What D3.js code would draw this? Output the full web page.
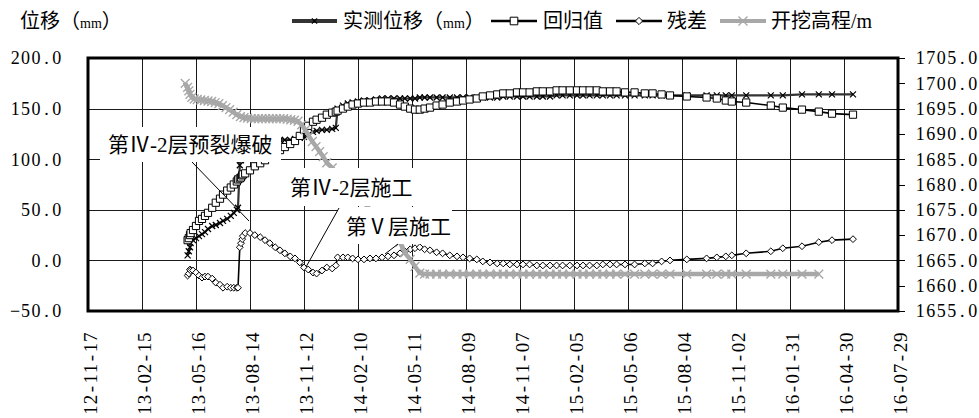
<!DOCTYPE html>
<html>
<head>
<meta charset="utf-8">
<script src="https://cdn.jsdelivr.net/npm/d3@7"></script>
<style>
  html, body { margin: 0; padding: 0; background: #fff; }
  svg { display: block; }
  .num { font-family: "Liberation Serif", "DejaVu Serif", serif; }
  .cjk { font-family: "Liberation Serif", "Noto Sans CJK SC", sans-serif; }
</style>
</head>
<body>
<svg id="chart" width="979" height="418"></svg>
<script>
(function () {
  'use strict';

  // ---- data ----
  const xTickLabels = ['12-11-17', '13-02-15', '13-05-16', '13-08-14', '13-11-12', '14-02-10', '14-05-11', '14-08-09',
    '14-11-07', '15-02-05', '15-05-06', '15-08-04', '15-11-02', '16-01-31', '16-04-30', '16-07-29'];
  const leftTicks = [-50, 0, 50, 100, 150, 200];
  const rightTicks = [1655, 1660, 1665, 1670, 1675, 1680, 1685, 1690, 1695, 1700, 1705];

  const obsDates = [
    '2013-05-02', '2013-05-04', '2013-05-06', '2013-05-07', '2013-05-11', '2013-05-16', '2013-05-21', '2013-05-26', '2013-05-31', '2013-06-05',
    '2013-06-12', '2013-06-18', '2013-06-25', '2013-06-30', '2013-07-07', '2013-07-13', '2013-07-18', '2013-07-23', '2013-07-25', '2013-07-28',
    '2013-07-30', '2013-08-01', '2013-08-02', '2013-08-06', '2013-08-14', '2013-08-22', '2013-08-31', '2013-09-08', '2013-09-16', '2013-09-25',
    '2013-10-03', '2013-10-11', '2013-10-20', '2013-10-28', '2013-11-05', '2013-11-12', '2013-11-19', '2013-11-27', '2013-12-03', '2013-12-12',
    '2013-12-20', '2013-12-29', '2014-01-04', '2014-01-07', '2014-01-16', '2014-01-24', '2014-02-01', '2014-02-10', '2014-02-20', '2014-03-02',
    '2014-03-12', '2014-03-22', '2014-04-01', '2014-04-11', '2014-04-21', '2014-04-29', '2014-05-08', '2014-05-16', '2014-05-24', '2014-06-01',
    '2014-06-10', '2014-06-21', '2014-07-01', '2014-07-13', '2014-07-25', '2014-08-04', '2014-08-15', '2014-08-27', '2014-09-06', '2014-09-18',
    '2014-09-30', '2014-10-10', '2014-10-21', '2014-11-02', '2014-11-12', '2014-11-23', '2014-12-05', '2014-12-15', '2014-12-27', '2015-01-07',
    '2015-01-17', '2015-01-29', '2015-02-10', '2015-02-20', '2015-03-03', '2015-03-15', '2015-03-25', '2015-04-06', '2015-04-17', '2015-05-01',
    '2015-05-17', '2015-06-03', '2015-06-16', '2015-07-01', '2015-07-15', '2015-08-12', '2015-09-14', '2015-10-01', '2015-10-16', '2015-10-26',
    '2015-11-19', '2015-12-30', '2016-01-19', '2016-02-20', '2016-03-19', '2016-04-10', '2016-05-15'
  ];
  const measured = [
    5, 9, 13, 17, 20, 22, 24, 26, 28, 31,
    34, 35, 37, 39, 41, 44, 47, 50, 52, 94,
    99, 104, 108, 113, 116, 118, 119, 119, 119, 119,
    119, 119, 119, 120, 121, 122, 124, 127, 128, 129,
    129, 130, 131, 150, 153, 155, 156, 157, 158, 158,
    159, 160, 160, 160, 160, 160, 160, 160, 161, 161,
    161, 161, 161, 161, 161, 161, 161, 161, 161, 161,
    161, 162, 162, 162, 162, 162, 162, 162, 162, 163,
    163, 163, 163, 163, 163, 163, 163, 163, 163, 163,
    163, 163, 163, 163, 163, 163, 163, 163, 163, 163,
    163, 163, 163, 164, 164, 164, 164
  ];
  const regression = [
    20, 22, 25, 27, 30, 34, 39, 41, 44, 47,
    52, 57, 61, 65, 69, 72, 75, 78, 80, 81,
    82, 84, 85, 86, 89, 93, 96, 99, 102, 106,
    109, 112, 115, 118, 123, 129, 133, 137, 139, 141,
    144, 146, 147, 148, 150, 152, 154, 155, 156, 156,
    157, 157, 157, 156, 154, 152, 150, 149, 149, 150,
    151, 153, 154, 156, 157, 158, 159, 160, 162, 163,
    164, 165, 165, 166, 166, 166, 167, 167, 167, 168,
    168, 168, 168, 168, 168, 168, 167, 167, 167, 166,
    166, 165, 165, 164, 163, 162, 161, 160, 158, 157,
    156, 153, 151, 149, 147, 145, 144
  ];
  const residual = [
    -15, -13, -9, -10, -10, -12, -15, -17, -16, -16,
    -18, -22, -24, -27, -26, -27, -27, -27, -27, 13,
    17, 21, 24, 27, 27, 25, 23, 20, 17, 13,
    10, 7, 4, 2, -2, -7, -9, -12, -13, -10,
    -7, -8, -5, 3, 3, 3, 2, 1, 1, 2,
    2, 3, 4, 5, 7, 9, 11, 12, 13, 11,
    10, 8, 7, 5, 4, 3, 2, 1, -1, -2,
    -3, -3, -4, -4, -4, -4, -5, -5, -5, -5,
    -5, -5, -5, -5, -5, -5, -4, -4, -4, -4,
    -4, -3, -3, -1, 0, 1, 2, 3, 4, 5,
    7, 9, 12, 14, 18, 20, 21
  ];

  const elevDates = [
    '2013-04-28', '2013-05-02', '2013-05-04', '2013-05-06', '2013-05-09', '2013-05-13', '2013-05-18', '2013-05-24', '2013-05-30', '2013-06-05',
    '2013-06-11', '2013-06-17', '2013-06-23', '2013-06-29', '2013-07-05', '2013-07-11', '2013-07-17', '2013-07-23', '2013-07-29', '2013-08-04',
    '2013-08-10', '2013-08-16', '2013-08-22', '2013-08-28', '2013-09-03', '2013-09-09', '2013-09-15', '2013-09-21', '2013-09-27', '2013-10-03',
    '2013-10-09', '2013-10-15', '2013-10-21', '2013-10-27', '2013-11-02', '2013-11-08', '2013-11-14', '2013-11-20', '2013-11-26', '2013-12-02',
    '2013-12-08', '2013-12-14', '2013-12-20', '2013-12-29', '2014-01-19', '2014-02-13', '2014-03-10', '2014-04-04', '2014-04-21', '2014-04-29',
    '2014-05-08', '2014-05-16', '2014-05-24', '2014-06-01', '2014-06-10', '2014-06-21', '2014-07-01', '2014-07-13', '2014-07-25', '2014-08-04',
    '2014-08-15', '2014-08-27', '2014-09-06', '2014-09-18', '2014-09-30', '2014-10-10', '2014-10-21', '2014-11-02', '2014-11-12', '2014-11-23',
    '2014-12-05', '2014-12-15', '2014-12-27', '2015-01-07', '2015-01-17', '2015-01-29', '2015-02-10', '2015-02-20', '2015-03-03', '2015-03-15',
    '2015-03-25', '2015-04-06', '2015-04-17', '2015-05-01', '2015-05-17', '2015-06-03', '2015-06-16', '2015-07-01', '2015-07-15', '2015-08-12',
    '2015-09-14', '2015-10-01', '2015-10-16', '2015-10-26', '2015-11-19', '2015-12-30', '2016-01-19', '2016-02-20', '2016-03-19'
  ];
  const elevation = [
    1700.0, 1699.2, 1698.5, 1697.8, 1697.2, 1696.9, 1696.8, 1696.7, 1696.6, 1696.5,
    1696.4, 1696.2, 1696.0, 1695.6, 1695.2, 1694.8, 1694.3, 1693.8, 1693.4, 1693.2,
    1693.1, 1693.0, 1693.0, 1693.0, 1693.0, 1693.0, 1693.0, 1693.0, 1693.0, 1693.0,
    1693.0, 1692.9, 1692.8, 1692.7, 1692.5, 1691.8, 1690.8, 1689.6, 1688.5, 1687.5,
    1686.5, 1685.5, 1684.3, 1683.3, 1680.7, 1677.4, 1674.0, 1670.6, 1668.6, 1666.5,
    1665.2, 1663.8, 1662.5, 1662.3, 1662.3, 1662.3, 1662.3, 1662.3, 1662.3, 1662.3,
    1662.3, 1662.3, 1662.3, 1662.3, 1662.3, 1662.3, 1662.3, 1662.3, 1662.3, 1662.3,
    1662.3, 1662.3, 1662.3, 1662.3, 1662.3, 1662.3, 1662.3, 1662.3, 1662.3, 1662.3,
    1662.3, 1662.3, 1662.3, 1662.3, 1662.3, 1662.3, 1662.3, 1662.3, 1662.3, 1662.3,
    1662.3, 1662.3, 1662.3, 1662.3, 1662.3, 1662.3, 1662.3, 1662.3, 1662.3
  ];

  const seriesNames = ['实测位移（mm）', '回归值', '残差', '开挖高程/m'];
  const leftTitle = '位移（mm）';
  const notes = ['第Ⅳ-2层预裂爆破', '第Ⅳ-2层施工', '第Ⅴ层施工'];

  // ---- layout ----
  const plot = { left: 88, right: 898, top: 58, bottom: 311 };
  const GREY = '#a8a8a8';

  const parseDate = d3.utcParse('%Y-%m-%d');
  const parseTick = d3.utcParse('%y-%m-%d');
  const tickDates = xTickLabels.map(parseTick);

  const x = d3.scaleUtc().domain([tickDates[0], tickDates[tickDates.length - 1]]).range([plot.left, plot.right]);
  const yL = d3.scaleLinear().domain([-50, 200]).range([plot.bottom, plot.top]);
  const yR = d3.scaleLinear().domain([1655, 1705]).range([plot.bottom, plot.top]);
  const fmt = d3.format('.1f');

  const svg = d3.select('#chart');

  // text where every character sits in its own fixed-width cell (like SimSun digits)
  function cellText(sel, str, x0, y, cell, anchor) {
    const chars = Array.from(str);
    const start = anchor === 'end' ? x0 - chars.length * cell : x0;
    const xs = chars.map((c, i) => (start + (i + 0.5) * cell).toFixed(1)).join(' ');
    return sel.append('text')
      .attr('class', 'num')
      .attr('x', xs).attr('y', y).attr('dy', '0.35em')
      .attr('text-anchor', 'middle')
      .text(str);
  }

  // CJK label; latin runs such as "mm" are set a bit smaller, like the half-width glyphs of the original
  function cjkText(sel, str, x0, y, size) {
    const t = sel.append('text')
      .attr('class', 'cjk')
      .attr('x', x0).attr('y', y).attr('dy', '0.35em')
      .style('font-size', size + 'px');
    str.split(/(mm)/).filter(s => s.length).forEach(part => {
      const ts = t.append('tspan').text(part);
      if (part === 'mm') ts.style('font-size', Math.round(size * 0.72) + 'px');
    });
    return t;
  }

  // marker shapes
  const markX = s => `M${-s},${-s}L${s},${s}M${-s},${s}L${s},${-s}`;
  const markSquare = s => `M${-s},${-s}h${2 * s}v${2 * s}h${-2 * s}Z`;
  const markDiamond = s => `M0,${-s}L${s},0L0,${s}L${-s},0Z`;

  // ---- grid ----
  const gGrid = svg.append('g').attr('class', 'grid').attr('stroke', '#1a1a1a').attr('stroke-width', 1);
  gGrid.selectAll('line.h').data(leftTicks).join('line')
    .attr('class', 'h')
    .attr('x1', plot.left).attr('x2', plot.right)
    .attr('y1', d => Math.round(yL(d)) + 0.5).attr('y2', d => Math.round(yL(d)) + 0.5);
  gGrid.selectAll('line.v').data(tickDates).join('line')
    .attr('class', 'v')
    .attr('x1', d => Math.round(x(d)) + 0.5).attr('x2', d => Math.round(x(d)) + 0.5)
    .attr('y1', plot.top).attr('y2', plot.bottom);

  // ---- series ----
  const obs = obsDates.map((d, i) => ({
    date: parseDate(d), m: measured[i], r: regression[i], e: residual[i]
  }));
  const elev = elevDates.map((d, i) => ({ date: parseDate(d), v: elevation[i] }));

  const gSeries = svg.append('g').attr('class', 'series');

  function drawSeries(data, yScale, key, opts) {
    const g = gSeries.append('g').attr('class', 'series-' + key);
    const line = d3.line().x(d => x(d.date)).y(d => yScale(d[key]));
    g.append('path').datum(data)
      .attr('fill', 'none')
      .attr('stroke', opts.stroke)
      .attr('stroke-width', opts.width)
      .attr('stroke-linejoin', 'round')
      .attr('d', line);
    g.selectAll('path.mk').data(data).join('path')
      .attr('class', 'mk')
      .attr('transform', d => `translate(${x(d.date)},${yScale(d[key])})`)
      .attr('d', opts.marker)
      .attr('fill', opts.markFill)
      .attr('stroke', opts.markStroke)
      .attr('stroke-width', opts.markWidth);
  }

  drawSeries(obs, yL, 'm', { stroke: '#333', width: 2.2, marker: markX(3), markFill: 'none', markStroke: '#000', markWidth: 1.2 });
  drawSeries(obs, yL, 'r', { stroke: '#000', width: 1.6, marker: markSquare(3.6), markFill: '#fff', markStroke: '#000', markWidth: 1 });
  drawSeries(obs, yL, 'e', { stroke: '#000', width: 1.6, marker: markDiamond(3.4), markFill: '#fff', markStroke: '#000', markWidth: 1 });
  drawSeries(elev, yR, 'v', { stroke: GREY, width: 4.5, marker: markX(4.4), markFill: 'none', markStroke: GREY, markWidth: 1.4 });

  // ---- annotations (white boxes cover what lies beneath, as in the original) ----
  const gNotes = svg.append('g').attr('class', 'notes');
  const boxes = [
    { x0: 100, y0: 127, x1: 281, y1: 162, tx: 108, ty: 144 },
    { x0: 286, y0: 168, x1: 416, y1: 206, tx: 290, ty: 187 },
    { x0: 338, y0: 207, x1: 452, y1: 244, tx: 346, ty: 226 }
  ];
  boxes.forEach(b => {
    gNotes.append('rect')
      .attr('x', b.x0).attr('y', b.y0)
      .attr('width', b.x1 - b.x0).attr('height', b.y1 - b.y0)
      .attr('fill', '#fff');
  });
  const leaders = [
    [[192, 162], [249, 221]],
    [[339, 208], [306, 267]],
    [[398, 244], [385, 254]]
  ];
  gNotes.selectAll('line.leader').data(leaders).join('line')
    .attr('class', 'leader')
    .attr('x1', d => d[0][0]).attr('y1', d => d[0][1])
    .attr('x2', d => d[1][0]).attr('y2', d => d[1][1])
    .attr('stroke', '#000').attr('stroke-width', 1);
  boxes.forEach((b, i) => {
    gNotes.append('text')
      .attr('class', 'cjk')
      .attr('x', b.tx).attr('y', b.ty).attr('dy', '0.36em')
      .style('font-size', '21px')
      .attr('fill', '#000')
      .text(notes[i]);
  });

  // ---- frame ----
  svg.append('rect')
    .attr('x', plot.left).attr('y', plot.top)
    .attr('width', plot.right - plot.left).attr('height', plot.bottom - plot.top)
    .attr('fill', 'none').attr('stroke', '#000').attr('stroke-width', 3);

  // ---- axes ----
  const gLeft = svg.append('g').attr('class', 'axis-left').style('font-size', '18px').attr('fill', '#000');
  leftTicks.forEach(v => cellText(gLeft, fmt(v), 62, yL(v), 10.4, 'end'));

  const gRight = svg.append('g').attr('class', 'axis-right').style('font-size', '18px').attr('fill', '#000');
  gRight.selectAll('line').data(rightTicks).join('line')
    .attr('x1', plot.right).attr('x2', plot.right + 7)
    .attr('y1', d => Math.round(yR(d)) + 0.5).attr('y2', d => Math.round(yR(d)) + 0.5)
    .attr('stroke', '#000').attr('stroke-width', 1);
  rightTicks.forEach(v => cellText(gRight, fmt(v), 915, yR(v), 10.5, 'start'));

  const gBottom = svg.append('g').attr('class', 'axis-bottom').style('font-size', '19px').attr('fill', '#000');
  tickDates.forEach((d, i) => {
    const g = gBottom.append('g').attr('transform', `translate(${x(d) + 2},332) rotate(-90)`);
    cellText(g, xTickLabels[i], 0, 0, 10.4, 'end');
  });

  // ---- titles & legend ----
  cjkText(svg, leftTitle, 20, 21, 20);

  const legendItems = [
    { x0: 292, x1: 337, tx: 343, stroke: '#333', width: 4, marker: markX(2.6), fill: 'none', mstroke: '#000', mwidth: 1.2 },
    { x0: 491, x1: 537, tx: 543, stroke: '#000', width: 2.4, marker: markSquare(3.8), fill: '#fff', mstroke: '#000', mwidth: 1 },
    { x0: 616, x1: 662, tx: 667, stroke: '#000', width: 2.4, marker: markDiamond(3.6), fill: '#fff', mstroke: '#000', mwidth: 1 },
    { x0: 720, x1: 766, tx: 771, stroke: GREY, width: 4, marker: markX(4.5), fill: 'none', mstroke: GREY, mwidth: 1.4 }
  ];
  const gLegend = svg.append('g').attr('class', 'legend');
  legendItems.forEach((it, i) => {
    const g = gLegend.append('g');
    g.append('line')
      .attr('x1', it.x0).attr('x2', it.x1).attr('y1', 21).attr('y2', 21)
      .attr('stroke', it.stroke).attr('stroke-width', it.width);
    g.append('path')
      .attr('transform', `translate(${(it.x0 + it.x1) / 2},21)`)
      .attr('d', it.marker)
      .attr('fill', it.fill).attr('stroke', it.mstroke).attr('stroke-width', it.mwidth);
    cjkText(g, seriesNames[i], it.tx, 21, 20);
  });
})();
</script>
</body>
</html>
